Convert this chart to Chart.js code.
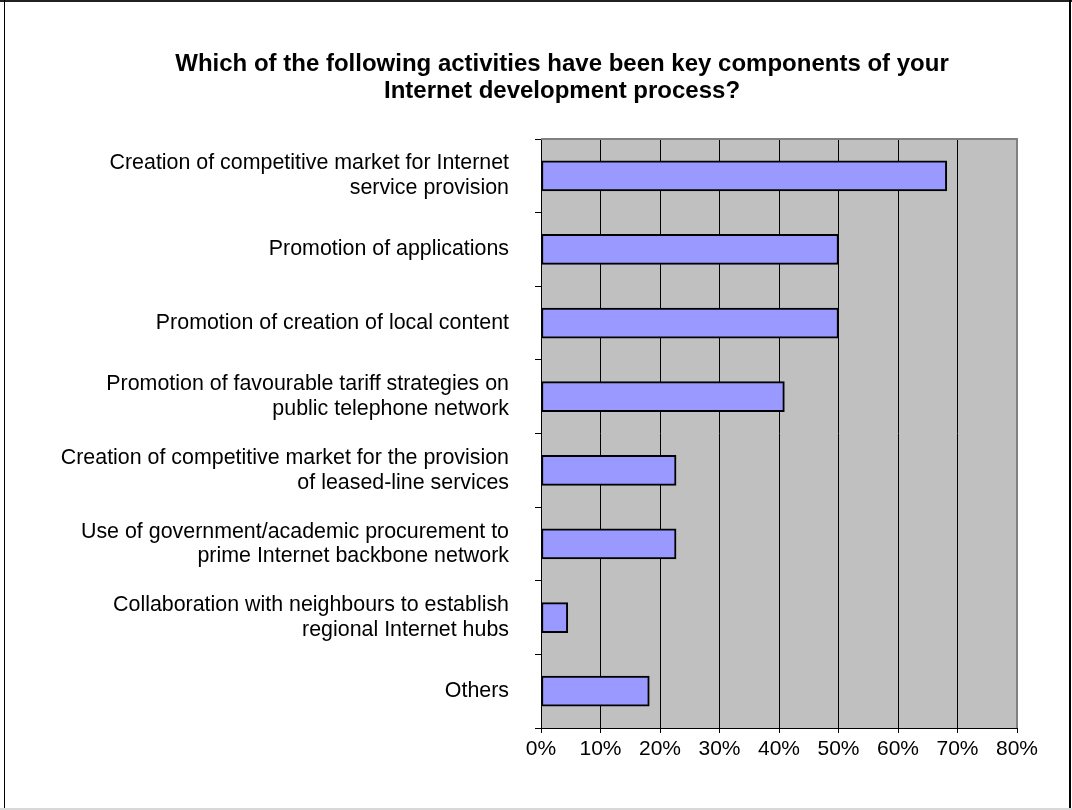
<!DOCTYPE html>
<html>
<head>
<meta charset="utf-8">
<script src="https://cdn.jsdelivr.net/npm/chart.js@4/dist/chart.umd.min.js"></script>
<style>
body{margin:0;background:#fff;}
#wrap{width:1072px;height:810px;}
</style>
</head>
<body>
<div id="wrap"><canvas id="chart" width="1072" height="810"></canvas></div>
<script>
var titleLines = [
"Which of the following activities have been key components of your",
"Internet development process?"
];

var categories = [
["Creation of competitive market for Internet","service provision"],
"Promotion of applications",
"Promotion of creation of local content",
["Promotion of favourable tariff strategies on","public telephone network"],
["Creation of competitive market for the provision","of leased-line services"],
["Use of government/academic procurement to","prime Internet backbone network"],
["Collaboration with neighbours to establish","regional Internet hubs"],
"Others"
];

// percent of respondents
var values = [68.2, 50, 50, 40.9, 22.7, 22.7, 4.5, 18.2];

var axisMax = 80;
var axisStep = 10;

var fontFamily = "'Liberation Sans', Arial, sans-serif";

/* gray plot area, border, frame and title */
var plotBox = {
id:"plotBox",
beforeDraw:function(chart){
var a = chart.chartArea;
var ctx = chart.ctx;
ctx.save();
ctx.fillStyle = "#fff";
ctx.fillRect(0, 0, chart.width, chart.height);
ctx.fillStyle = "#c0c0c0";
ctx.fillRect(a.left, a.top, a.right - a.left, a.bottom - a.top);
// outer frame
ctx.fillStyle = "#222";
ctx.fillRect(0, 0, chart.width, 2);
ctx.fillStyle = "#000";
ctx.fillRect(4, 0, 1, chart.height);
ctx.fillRect(1069, 0, 2, chart.height);
ctx.fillStyle = "#d8d8d8";
ctx.fillRect(0, 808, chart.width, 2);
// title
ctx.fillStyle = "#000";
ctx.font = "bold 24px " + fontFamily;
ctx.textAlign = "center";
ctx.textBaseline = "middle";
for(var i=0;i<titleLines.length;i++){
ctx.fillText(titleLines[i], 562, 64 + i*27);
}
ctx.restore();
},
beforeDatasetsDraw:function(chart){
var a = chart.chartArea;
var ctx = chart.ctx;
ctx.save();
ctx.strokeStyle = "#808080";
ctx.lineWidth = 2;
ctx.beginPath();
ctx.moveTo(a.left, a.top);
ctx.lineTo(a.right, a.top);
ctx.lineTo(a.right, a.bottom);
ctx.stroke();
ctx.restore();
}
};

var ctx = document.getElementById("chart").getContext("2d");

new Chart(ctx,{
type:"bar",
data:{
labels:categories,
datasets:[{
data:values,
backgroundColor:"#9999ff",
borderColor:"#000",
borderWidth:2,
borderSkipped:false,
barThickness:30
}]
},
options:{
indexAxis:"y",
responsive:false,
animation:false,
layout:{
padding:{top:139, left:6, right:55, bottom:22}
},
plugins:{
legend:{display:false},
tooltip:{enabled:false},
title:{display:false}
},
scales:{
x:{
min:0,
max:axisMax,
ticks:{
stepSize:axisStep,
color:"#000",
padding:4,
font:{family:fontFamily, size:21},
callback:function(v){ return v + "%"; }
},
grid:{
color:function(c){ return c.tick && c.tick.value == axisMax ? "#808080" : "#000"; },
lineWidth:1,
tickLength:5,
tickColor:"#000"
},
border:{color:"#000", width:1},
afterFit:function(scale){ scale.height = 60; }
},
y:{
ticks:{
color:"#000",
padding:26,
font:{family:fontFamily, size:21.4, lineHeight:1.15}
},
grid:{
drawOnChartArea:false,
color:"#000",
tickLength:6
},
border:{color:"#000", width:1},
afterFit:function(scale){ scale.width = 535; }
}
}
},
plugins:[plotBox]
});
</script>
</body>
</html>
